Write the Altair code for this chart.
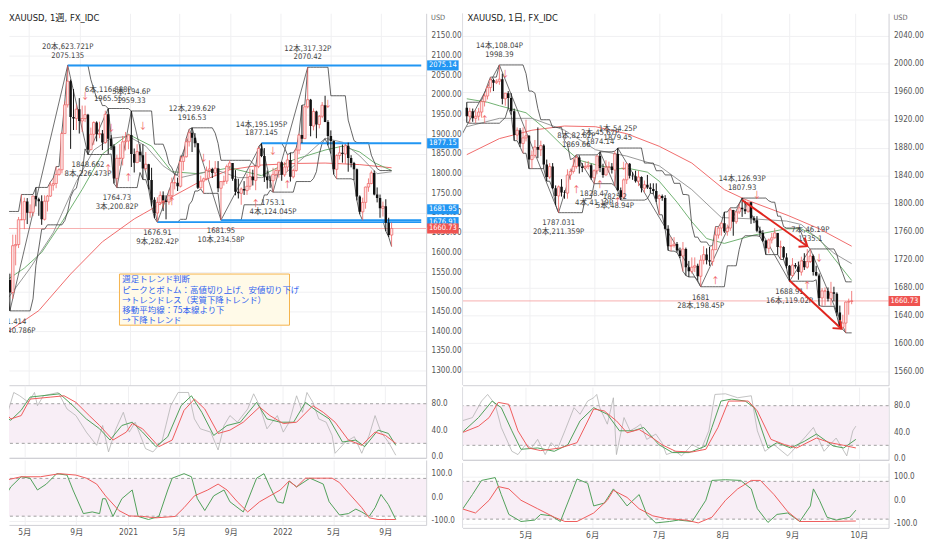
import altair as alt
import pandas as pd

FONT = "Liberation Sans Narrow, DejaVu Sans Condensed, Noto Sans CJK JP, sans-serif"
JFONT = "Noto Sans CJK JP, Noto Sans, sans-serif"

# ================= weekly XAUUSD (1週) =================
w_open = [1673,1530,1498,1617,1620,1683,1683,1729,1701,1702,
          1743,1735,1730,1684,1730,1743,1771,1775,1798,1810,
          1902,1975,2035,1944,1940,1964,1934,1940,1950,1861,
          1900,1930,1900,1902,1879,1951,1889,1870,1788,1839,
          1839,1881,1883,1898,1850,1828,1856,1847,1813,1824,
          1784,1734,1700,1727,1745,1732,1728,1744,1777,1777,
          1768,1831,1843,1881,1904,1891,1877,1764,1781,1787,
          1808,1812,1802,1814,1763,1780,1781,1818,1827,1787,
          1754,1750,1761,1757,1768,1793,1783,1818,1864,1845,
          1792,1783,1782,1798,1808,1829,1797,1817,1835,1792,
          1808,1860,1898,1889,1970,1988,1921,1958,1925,1946,
          1974,1931,1896,1883,1811,1846,1853,1850,1871,1840,
          1827,1811,1742,1703,1727,1766,1775,1802,1747,1738,
          1712,1717,1675,1644]
w_high = [1704,1546,1645,1645,1690,1747,1739,1738,1722,1744,
          1765,1739,1745,1745,1746,1779,1789,1818,1814,1907,
          1984,2075.1,2039,2015,1976,1992,1973,1973,1952,1917,
          1933,1933,1932,1911,1960,1965.6,1898,1875,1848,1875,
          1896,1906,1900,1959.3,1864,1875,1875,1875,1855,1825,
          1815,1740,1740,1755,1755,1745,1759,1790,1797,1790,
          1845,1845,1890,1913,1916.5,1903,1877,1795,1790,1818,
          1834,1815,1832,1832,1780,1795,1823,1834,1827,1809,
          1787,1765,1781,1800,1813,1810,1818,1869,1877.1,1865,
          1808,1793,1815,1814,1830,1831,1830,1848,1853,1813,
          1865,1902,1974,1975,2070.4,1990,1966,1960,1949,1982,
          1998,1936,1910,1884,1849,1870,1874,1875,1879,1847,
          1830,1813,1745,1739,1767,1788,1808,1808,1765,1747,
          1729,1735,1688,1676]
w_low = [1504,1451.4,1482,1567,1611,1682,1659,1672,1688,1692,
         1717,1693,1670,1681,1704,1741,1757,1763,1795,1801,
         1902,1968,1863,1911,1911,1902,1906,1931,1848.7,1860,
         1873,1882,1890,1860,1876,1850,1860,1775,1764.7,1820,
         1821,1859,1862,1817,1803,1828,1830,1785,1808,1760,
         1717,1687,1676.9,1720,1705,1684,1721,1731,1760,1756,
         1765,1808,1841,1869,1855,1867,1761,1762,1750,1783,
         1791,1789,1793,1753,1681.95,1770,1774,1809,1782,1745,
         1737,1721,1746,1746,1759,1770,1758,1814,1842,1779,
         1762,1764,1753.1,1785,1790,1782,1792,1806,1780,1788,
         1805,1850,1878,1889,1966,1895,1910,1890,1915,1941,
         1931,1872,1851,1798,1787,1836,1828,1825,1805,1816,
         1784,1732,1697,1681,1711,1754,1773,1745,1727,1688,
         1691,1654,1639,1615]
w_close = [1530,1498,1617,1620,1683,1683,1729,1701,1702,1743,
           1735,1730,1684,1730,1743,1771,1775,1798,1810,1902,
           1975,2035,1944,1940,1964,1934,1940,1950,1861,1900,
           1930,1900,1902,1879,1951,1889,1870,1788,1839,1839,
           1881,1883,1898,1850,1828,1856,1847,1813,1824,1784,
           1734,1700,1727,1745,1732,1728,1744,1777,1777,1768,
           1831,1843,1881,1904,1891,1877,1764,1781,1787,1808,
           1812,1802,1814,1763,1780,1781,1818,1827,1787,1754,
           1750,1761,1757,1768,1793,1783,1818,1864,1845,1792,
           1783,1782,1798,1808,1829,1797,1817,1835,1792,1808,
           1860,1898,1889,1970,1988,1921,1958,1925,1946,1974,
           1931,1896,1883,1811,1846,1853,1850,1871,1840,1827,
           1811,1742,1703,1727,1766,1775,1802,1747,1738,1712,
           1717,1675,1644,1660.73]

w_ma75 = [(0,1397),(11,1452),(22,1545),(33,1627),(44,1685),(50,1710),(58,1745),(66,1777),
          (77,1810),(88,1822),(100,1826),(110,1827),(122,1823),(133,1815)]
w_ma26 = [(0,1530),(6,1560),(12,1600),(19,1677),(26,1760),(33,1850),(42,1900),(46,1885),(50,1870),
          (57,1805),(66,1800),(77,1815),(88,1795),(99,1835),(110,1860),(116,1870),(122,1855),(127,1828),(133,1808)]
w_ma_grey = [(0,1480),(8,1560),(16,1650),(24,1780),(30,1860),(36,1890),(42,1895),(48,1870),(54,1820),
             (60,1790),(66,1800),(72,1810),(80,1790),(88,1790),(96,1800),(104,1850),(110,1890),(116,1880),
             (122,1845),(128,1800),(133,1805)]

w_piv_i = [1,21,28,35,38,43,52,64,74,88,92,104]
w_piv_p = [1451.414,2075.135,1848.662,1965.55,1764.73,1959.33,1676.91,1916.53,1681.95,1877.145,1753.1,2070.42]
w_piv_ptxt = ["1451.414","2075.135","1848.662","1965.55","1764.73","1959.33","1676.91","1916.53","1681.95","1877.145","1753.1","2070.42"]
w_piv_cnt = ["14本,240.786P","20本,623.721P","8本,226.473P","6本,116.888P","3本,200.82P","5本,194.6P",
             "9本,282.42P","12本,239.62P","10本,234.58P","14本,195.195P","4本,124.045P","12本,317.32P"]
w_piv_kind = ["lo","hi","lo","hi","lo","hi","lo","hi","lo","hi","lo","hi"]

w_hlines_p = [2075.14, 1877.15, 1681.95, 1676.91]
w_hlines_i = [21, 88, 74, 52]

w_sig_dn = [(27,1997),(36,1915),(47,1920),(68,1840),(92,1857),(111,1977)]
w_sig_up = [(35,1812),(42,1790),(54,1720),(57,1727),(86,1722),(97,1770)]

w_stk_grey = [(0,22),(2,67),(4,97),(6,92),(9,82),(11,97),(12,77),(14,92),(19,97),(22,72),(25,62),(28.5,37),
              (32,17),(34,47),(36,7),(38.5,42),(41,67),(43,37),(45,52),(48.5,12),(51,7),(54,22),(57,77),
              (59.5,97),(63,97),(65,57),(67,42),(70.5,37),(73,10),(75,47),(77,62),(79.5,52),(83,72),(85,95),
              (87,77),(89.5,42),(93,62),(95,37),(97,52),(99.5,92),(101.5,67),(103,97),(105,82),(107,57),
              (109.5,52),(111.5,32),(112.5,5),(116,22),(119,30),(121.5,5),(124,32),(126,62),(128,37),
              (130.5,22),(133,2)]
w_stk_green = [(0,62),(3,55),(6.5,70),(9.5,90),(19.5,95),(24,77),(28.5,57),(33,42),(36.5,25),(40.5,47),
               (44,52),(47.5,37),(52,15),(56,30),(60.5,77),(64,92),(67.5,67),(71.5,32),(76,47),(80.5,52),
               (86,82),(89.5,57),(94,52),(98.5,52),(102.5,82),(106,70),(110.5,57),(115,22),(119.5,25),
               (122.5,15),(127,40),(130.5,35),(133,17)]
w_stk_red = [(0,72),(3,57),(6.5,62),(9.5,87),(16.5,90),(21,92),(25,82),(29.5,62),(33,47),(37.5,25),(42,37),
             (44,50),(47.5,42),(53,15),(57.5,25),(61.5,70),(65,87),(68.5,72),(73,35),(77,40),(81.5,52),
             (87,75),(90.5,62),(95,50),(99.5,52),(105,77),(108.5,67),(112.5,52),(117,25),(121.5,17),
             (126,37),(129.5,32),(133,20)]
w_rci_red = [(0,69),(6.5,87),(13,87),(19.5,100),(25,94),(28.5,81),(32,56),(35,6),(39.5,-56),(43,-79),
             (47.5,-81),(52,-87),(58.5,-81),(61.5,-44),(65,6),(69.5,31),(73,56),(76,31),(79.5,-19),(83,-62),
             (87,-19),(90.5,6),(94,31),(97,69),(99.5,44),(102.5,81),(111.5,81),(114,62),(117,19),
             (121.5,-44),(124,-87),(127,-94),(133,-94)]
w_rci_green = [(0,-19),(3,44),(6.5,87),(9.5,81),(12,31),(15,56),(18.5,100),(22,94),(24,31),(27.5,-69),
               (30.5,-62),(33,-69),(34,-6),(35,-6),(37.5,-81),(40.5,-6),(44,31),(46,-81),(49.5,-94),(53,-81),
               (56,31),(57.5,81),(61.5,100),(64,87),(66,-6),(68.5,-56),(71.5,6),(75,31),(77,-19),(81.5,-62),
               (86,81),(88.5,100),(90.5,44),(93,-19),(95,-25),(97,69),(99.5,44),(104,81),(108.5,56),
               (110.5,-19),(114,-75),(117,-69),(119.5,-50),(121.5,-62),(124,-81),(126,-44),(128,12),
               (130.5,-31),(133,-94)]

w_tick_i = [7.57, 25.14, 42.57, 59.71, 77.29, 94.71, 111.86, 129.43]
w_tick_lab = ["5月", "9月", "2021", "5月", "9月", "2022", "5月", "9月"]
w_price_ticks = [1300,1350,1400,1450,1500,1550,1600,1650,1700,1750,1800,1850,1900,1950,2000,2050,2100,2150]

note_lines = "週足トレンド判断\nピークとボトム：高値切り上げ、安値切り下げ\n→トレンドレス（実質下降トレンド）\n移動平均線：75本線より下\n→下降トレンド"
note_box_i = [38.9, 97.7]
note_box_p = [1545, 1415]
note_txt_at = (39.9, 1541)

# ================= daily XAUUSD (1日) =================
d_open = [1937,1925,1932,1922,1925,1931,1946,1954,1966,1977,
          1973,1975,1978,1950,1958,1951,1932,1898,1905,1886,
          1894,1897,1863,1869,1881,1877,1883,1856,1838,1853,
          1822,1811,1824,1816,1815,1841,1846,1853,1866,1853,
          1851,1853,1855,1837,1847,1868,1851,1841,1852,1853,
          1848,1871,1819,1809,1834,1857,1840,1839,1832,1838,
          1822,1827,1823,1821,1818,1807,1811,1808,1764,1739,
          1740,1742,1733,1725,1735,1709,1703,1709,1711,1696,
          1719,1727,1719,1717,1734,1755,1765,1772,1760,1765,
          1791,1774,1788,1794,1792,1789,1802,1779,1776,1761,
          1758,1747,1736,1748,1751,1758,1738,1738,1723,1711,
          1697,1712,1710,1702,1718,1709,1717,1725,1702,1697,
          1665,1675,1675,1664,1673,1671,1644,1623,1629,1659,
          1660]
d_high = [1945,1937,1936,1934,1937,1948,1958,1970,1981,1979,
          1978,1998.4,1986,1958,1961,1958,1936,1909,1908,1909,
          1920,1898,1876,1891,1909,1890,1885,1863,1858,1858,
          1826,1826,1835,1819,1849,1850,1865,1869.7,1869,1858,
          1860,1861,1857,1849,1869,1874.1,1857,1862,1860,1858,
          1875,1879.5,1823,1836,1857,1858,1845,1847,1847,1839,
          1833,1841,1829,1829,1829,1813,1813,1812,1769,1752,
          1752,1745,1737,1745,1737,1718,1723,1723,1714,1726,
          1739,1736,1738,1740,1767,1767,1773,1788,1770,1794,
          1791,1789,1800,1807.9,1804,1802,1802,1782,1782,1767,
          1762,1748,1750,1758,1765,1758,1747,1739,1729,1712,
          1722,1715,1717,1724,1729,1735,1735.1,1727,1711,1700,
          1679,1680,1680,1688,1681,1673,1654,1641,1660,1664,
          1675]
d_low = [1916,1915,1917,1915,1919,1923,1939,1949,1959,1961,
         1971,1970,1942,1940,1937,1927,1890,1891,1881,1872,
         1889,1850,1850,1865,1865,1868,1850,1832,1835,1821,
         1798,1787,1810,1807,1807,1834,1843,1850,1843,1845,
         1849,1849,1834,1828.5,1842,1845,1837,1840,1844,1843,
         1825.2,1818,1805,1807,1828,1836,1834,1830,1825,1816,
         1816,1821,1815,1814,1802,1784,1804,1763,1733,1732,
         1737,1730,1722,1703,1697,1695,1700,1702,1690,1681,
         1713,1713,1711,1711,1734,1750,1754,1758,1754,1761,
         1754,1771,1785,1781,1785,1787,1771,1772,1759,1753,
         1745,1727,1729,1743,1750,1727,1720,1720,1707,1688.9,
         1695,1707,1691,1697,1705,1707,1715,1697,1696,1654,
         1653,1654,1660,1654,1660,1639,1622,1620,1615,1641,
         1656]
d_close = [1925,1932,1922,1925,1931,1946,1954,1966,1977,1973,
           1975,1978,1950,1958,1951,1932,1898,1905,1886,1894,
           1897,1863,1869,1881,1877,1883,1856,1838,1853,1822,
           1811,1824,1816,1815,1841,1846,1853,1866,1853,1851,
           1853,1855,1837,1847,1868,1851,1841,1852,1853,1848,
           1871,1819,1809,1834,1857,1840,1839,1832,1838,1822,
           1827,1823,1821,1818,1807,1811,1808,1764,1739,1740,
           1742,1733,1725,1735,1709,1703,1709,1711,1696,1719,
           1727,1719,1717,1734,1755,1765,1772,1760,1765,1791,
           1774,1788,1794,1792,1789,1802,1779,1776,1761,1758,
           1747,1736,1748,1751,1758,1738,1738,1723,1711,1697,
           1712,1710,1702,1718,1709,1717,1725,1702,1697,1665,
           1675,1675,1664,1673,1671,1644,1623,1629,1659,1660,
           1660.73]

d_ma75 = [(0,1870),(11,1893),(22,1905),(33,1911),(43.5,1910),(54,1900),(65,1882),(76,1858),(87,1820),
          (94,1806),(108.5,1783),(119,1764),(130,1739)]
d_ma25 = [(0,1950),(7,1945),(11,1940),(20,1930),(27,1905),(33,1880),(38,1862),(44,1855),(50,1850),(55,1850),
          (61,1845),(65,1832),(71,1802),(76,1774),(81,1750),(87,1743),(97,1755),(108,1764),(113,1764),
          (119,1750),(124,1722),(130,1690)]
d_ma_grey = [(0,1910),(11,1922),(22,1922),(33,1905),(43.5,1877),(54,1868),(65,1854),(76,1820),(86,1780),
             (97,1778),(108,1775),(113,1770),(119,1748),(124,1729),(130,1714)]

d_piv_j = [11,31,37,43,45,50,51,79,93,109,116]
d_piv_p = [1998.39,1787.031,1869.66,1828.47,1874.14,1825.2,1879.45,1681,1807.93,1688.91,1735.1]
d_piv_ptxt = ["1998.39","1787.031","1869.66","1828.47","1874.14","1825.2","1879.45","1681","1807.93","1688.91","1735.1"]
d_piv_cnt = ["14本,108.04P","20本,211.359P","8本,82.62P","4本,41.19P","2本,45.67P","5本,48.94P","1本,54.25P",
             "28本,198.45P","14本,126.93P","16本,119.02P","7本,46.19P"]
d_piv_kind = ["hi","lo","hi","lo","hi","lo","hi","lo","hi","lo","hi"]
d_zig_extra = [(-3,1888),(128,1615)]

d_arrows = [(93,1805,"a"),(115,1739,"a"),(109,1690,"b"),(126.5,1621,"b")]

d_sig_up = [(6,1919),(37,1819),(45,1827),(51,1802),(84,1689),(115,1682)]
d_sig_dn = [(13,1985),(53,1854),(98,1812),(119,1722)]

d_stk_grey = [(0,57),(3.5,62),(6.5,87),(8.5,97),(11,82),(13,47),(16.5,11),(18.5,6),(21,21),(23,16),(25,29),
              (27.5,6),(29.5,24),(31.5,14),(34,42),(37,77),(39,67),(41.5,87),(43.5,92),(44.5,97),(45.5,77),
              (48,52),(50,92),(51,6),(53.5,62),(55.5,42),(57.5,47),(59,52),(61,29),(64,37),(66,24),(67.5,6),
              (70.5,11),(72.5,4),(76,21),(79,14),(81.5,42),(83.5,97),(87,98),(91,92),(95.5,95),(97.5,42),
              (100,11),(103,21),(107.5,4),(113,31),(116,47),(119.5,11),(123.5,31),(127,4),(129,42),(130,49)]
d_stk_green = [(0,39),(5.5,62),(10,87),(13,77),(16.5,42),(19.5,14),(25,16),(30.5,11),(35,21),(39,57),
               (43.5,77),(48,67),(52,42),(56.5,42),(60,47),(65,21),(69.5,9),(75,9),(80.5,19),(82.5,47),
               (85.5,87),(89,90),(93.5,87),(96.5,77),(101,16),(104,24),(108.5,16),(113,26),(117,37),
               (122.5,19),(126,16),(130,29)]
d_stk_red = [(0,39),(5.5,49),(9,62),(12,85),(15.5,82),(18.5,42),(22,16),(26,12),(32.5,16),(38,24),(43.5,75),
             (47,72),(51,57),(54.5,39),(58.5,44),(63,31),(66,21),(70.5,11),(76,10),(80.5,14),(84.5,47),
             (88,87),(94.5,87),(97.5,72),(102,29),(106.5,21),(110.5,16),(117,31),(121.5,24),(126,20),(130,16)]
d_rci_red = [(0,-36),(4.5,-54),(9,0),(12,58),(15.5,48),(19.5,0),(25,-36),(30.5,-72),(34,-90),(38,-90),
             (43.5,-54),(48,0),(50,42),(54.5,12),(58.5,-36),(63,-66),(67.5,-78),(74,-84),(78,-96),(82.5,-72),
             (87,0),(91,48),(95.5,84),(98.5,84),(103,24),(107.5,-48),(111.5,-90),(119.5,-90),(130,-88)]
d_rci_green = [(0,-42),(3.5,24),(6.5,84),(11,96),(13,24),(15.5,-60),(19.5,-90),(24,-84),(26,-60),(29.5,-66),
               (32.5,-90),(36,24),(38,90),(41.5,72),(43.5,-24),(47,-12),(50,48),(52,18),(54.5,-24),(58.5,24),
               (61,-60),(64,-96),(68.5,-90),(71.5,-84),(76,-90),(80.5,0),(82.5,84),(87,87),(92,84),(95.5,48),
               (97.5,-36),(101,-94),(104,-60),(107.5,-54),(111.5,-90),(115,-24),(116,48),(118,0),(120.5,-72),
               (123.5,-84),(128,-72),(130,-42)]

d_tick_j = [21, 43, 65, 86, 109, 131]
d_tick_lab = ["5月", "6月", "7月", "8月", "9月", "10月"]
d_price_ticks = [1560,1600,1640,1680,1720,1760,1800,1840,1880,1920,1960,2000,2040]

last_price = 1660.73

# ================= layout / styles =================
LW, RW = 424, 433
PH, SH, CH = 378, 74, 66
WX = [2.39, 143.25]
WY = [1262.5, 2207.5]
DX = [0.23, 140.8]
DY = [1540.1, 2072.3]
SY = [-2.2, 108]
RY = [-117, 158]

GRID = "#f0f0f2"
DOM = "#cfcfd4"
LAB = "#555555"
UPC = "#ee5f5f"
DNC = "#111111"
BLUE = "#2196f3"
REDL = "#ef5350"


def ax_y(values, extent, fmt=None, expr=None, grid=True):
    kw = dict(orient="right", values=values, grid=grid, gridColor=GRID, ticks=False, labelPadding=5,
              domain=True, domainColor=DOM, labelFontSize=8.2, labelColor=LAB, labelFont=FONT,
              minExtent=extent, maxExtent=extent, title=None, labelOverlap=False, labelFlush=False)
    if fmt:
        kw["format"] = fmt
    if expr:
        kw["labelExpr"] = expr
    return alt.Axis(**kw)


def ax_x(values, labels=None):
    if labels is None:
        return alt.Axis(values=values, labels=False, ticks=False, grid=True, gridColor=GRID, domain=True,
                        domainColor=DOM, title=None, minExtent=0, maxExtent=0)
    expr = ("[" + ",".join("'%s'" % s for s in labels) + "][indexof([" +
            ",".join(repr(v) for v in values) + "], datum.value)]")
    return alt.Axis(values=values, labelExpr=expr, ticks=False, grid=True, gridColor=GRID, domain=True,
                    domainColor=DOM, title=None, labelPadding=3, labelFontSize=8.5, labelColor=LAB,
                    labelFont=FONT, minExtent=12, maxExtent=12, labelOverlap=False, labelFlush=False)


class Frame:
    def __init__(self, xdom, ydom, xaxis, yaxis, width, height):
        self.xs = alt.Scale(domain=xdom, nice=False, zero=False)
        self.ys = alt.Scale(domain=ydom, nice=False, zero=False)
        self.xa = xaxis
        self.ya = yaxis
        self.w = width
        self.h = height

    def X(self, f="i"):
        return alt.X(f + ":Q", scale=self.xs, axis=self.xa)

    def Y(self, f):
        return alt.Y(f + ":Q", scale=self.ys, axis=self.ya)


def pairs_df(pairs):
    return pd.DataFrame(pairs, columns=["i", "v"])


def line(fr, pairs, color, width=1.0, opacity=1.0):
    return alt.Chart(pairs_df(pairs)).mark_line(color=color, strokeWidth=width, opacity=opacity, clip=True).encode(
        x=fr.X(), y=fr.Y("v"))


def candles(fr, df, bw):
    b = alt.Chart(df)
    up = b.transform_filter("datum.close >= datum.open")
    dn = b.transform_filter("datum.close < datum.open")
    return [
        up.mark_rule(color=UPC, strokeWidth=0.8, clip=True).encode(x=fr.X(), y=fr.Y("low"), y2="high:Q"),
        dn.mark_rule(color=DNC, strokeWidth=1.0, clip=True).encode(x=fr.X(), y=fr.Y("low"), y2="high:Q"),
        up.mark_bar(fill="#fde6e6", stroke=UPC, strokeWidth=0.7, size=bw, clip=True).encode(
            x=fr.X(), y=fr.Y("open"), y2="close:Q"),
        dn.mark_bar(color=DNC, size=bw, clip=True).encode(x=fr.X(), y=fr.Y("open"), y2="close:Q"),
    ]


def donchian(fr, df, n):
    b = alt.Chart(df).transform_window(hh="max(high)", ll="min(low)", frame=[-(n - 1), 0],
                                       sort=[alt.SortField("i", order="ascending")])
    return [
        b.mark_line(color="#3c3c3c", strokeWidth=0.8, clip=True).encode(x=fr.X(), y=fr.Y("hh")),
        b.mark_line(color="#3c3c3c", strokeWidth=0.8, clip=True).encode(x=fr.X(), y=fr.Y("ll")),
    ]


def pivot_labels(fr, idx, prices, ptxt, cnt, kind):
    df = pd.DataFrame({"i": idx, "p": prices, "pt": ptxt, "ct": cnt, "k": kind})
    hi = alt.Chart(df).transform_filter("datum.k == 'hi'")
    lo = alt.Chart(df).transform_filter("datum.k == 'lo'")
    st = dict(fontSize=7.8, font=FONT, color="#444444", align="center", baseline="middle", clip=True)
    return [
        hi.mark_text(dy=-19, **st).encode(x=fr.X(), y=fr.Y("p"), text="ct:N"),
        hi.mark_text(dy=-10, **st).encode(x=fr.X(), y=fr.Y("p"), text="pt:N"),
        lo.mark_text(dy=11, **st).encode(x=fr.X(), y=fr.Y("p"), text="pt:N"),
        lo.mark_text(dy=20, **st).encode(x=fr.X(), y=fr.Y("p"), text="ct:N"),
    ]


def signals(fr, ups, dns):
    dfu = pd.DataFrame(ups, columns=["i", "v"]).assign(g="↑")
    dfd = pd.DataFrame(dns, columns=["i", "v"]).assign(g="↓")
    st = dict(fontSize=9, color="#f06262", align="center", baseline="middle", clip=True, font=JFONT)
    return [alt.Chart(d).mark_text(**st).encode(x=fr.X(), y=fr.Y("v"), text="g:N") for d in (dfu, dfd)]


BOX_SHAPE = "M-1,-0.32L1,-0.32L1,0.32L-1,0.32Z"


def price_tag(fr, price, text, color, cx, yoff=0):
    df = pd.DataFrame({"p": [price], "t": [text]})
    c = alt.Chart(df)
    return [
        c.mark_point(shape=BOX_SHAPE, filled=True, size=1024, color=color, opacity=1, yOffset=yoff).encode(
            x=alt.value(cx), y=fr.Y("p")),
        c.mark_text(color="white", fontSize=7.6, font=FONT, align="center", baseline="middle", yOffset=yoff).encode(
            x=alt.value(cx), y=fr.Y("p"), text="t:N"),
    ]


def title_text(txt, x):
    return alt.Chart(pd.DataFrame({"t": [txt]})).mark_text(
        align="left", baseline="middle", fontSize=9.5, font=FONT, color="#222222").encode(
        x=alt.value(x), y=alt.value(5), text="t:N")


def osc_pane(fr, lo, hi, lines):
    band = alt.Chart(pd.DataFrame({"lo": [lo], "hi": [hi]})).mark_rect(color="#f8eef6").encode(
        x=alt.value(0), x2=alt.value(fr.w), y=fr.Y("lo"), y2="hi:Q")
    lv = alt.Chart(pd.DataFrame({"lv": [lo, hi]})).mark_rule(
        strokeDash=[3, 3], color="#8a8a8a", strokeWidth=0.8).encode(y=fr.Y("lv"))
    layers = [band, lv] + lines
    return alt.layer(*layers).properties(width=fr.w, height=fr.h)


RCI_EXPR = "datum.value < 0 ? '-' + format(-datum.value, '.1f') : format(datum.value, '.1f')"

# ---------------- weekly panes ----------------
wk = pd.DataFrame({"i": list(range(len(w_close))), "open": w_open, "high": w_high,
                   "low": w_low, "close": w_close})
fw = Frame(WX, WY, ax_x(w_tick_i), ax_y(w_price_ticks, 34, fmt=".2f"), LW, PH)

w_layers = []
w_layers.append(alt.Chart(pd.DataFrame({"p": [last_price]})).mark_rule(
    color="#f6a5a5", strokeWidth=0.9).encode(y=fw.Y("p")))
w_layers.append(alt.Chart(pd.DataFrame({"i0": [note_box_i[0]], "i1": [note_box_i[1]],
                                        "p0": [note_box_p[0]], "p1": [note_box_p[1]]})).mark_rect(
    fill="#fffae8", stroke="#f5b24a", strokeWidth=1).encode(
    x=fw.X("i0"), x2="i1:Q", y=fw.Y("p0"), y2="p1:Q"))
w_layers.append(alt.Chart(pd.DataFrame({"i": [note_txt_at[0]], "p": [note_txt_at[1]], "t": [note_lines]})).mark_text(
    align="left", baseline="top", fontSize=8.6, lineHeight=10.4, lineBreak="\n", font=JFONT,
    color="#2f62f0").encode(x=fw.X(), y=fw.Y("p"), text="t:N"))
w_layers.append(line(fw, w_ma75, "#f06a6a", 1.0))
w_layers.append(line(fw, w_ma26, "#5fa860", 0.9))
w_layers.append(line(fw, w_ma_grey, "#8c8c8c", 0.9))
w_layers += donchian(fw, wk, 8)
w_layers.append(alt.Chart(pd.DataFrame({"i": w_piv_i, "v": w_piv_p})).mark_line(
    color="#4a4a4a", strokeWidth=0.8, clip=True).encode(x=fw.X(), y=fw.Y("v")))
hl = pd.DataFrame({"i": w_hlines_i, "p": w_hlines_p, "e": [WX[1]] * len(w_hlines_p)})
w_layers.append(alt.Chart(hl).mark_rule(color=BLUE, strokeWidth=2, clip=True).encode(
    x=fw.X(), x2="e:Q", y=fw.Y("p")))
w_layers += candles(fw, wk, 2.5)
w_layers += pivot_labels(fw, w_piv_i, w_piv_p, w_piv_ptxt, w_piv_cnt, w_piv_kind)
w_layers += signals(fw, w_sig_up, w_sig_dn)
w_layers.append(title_text("XAUUSD, 1週, FX_IDC", 0))
w_layers.append(alt.Chart(pd.DataFrame({"t": ["USD"]})).mark_text(
    align="left", baseline="middle", fontSize=7.5, font=FONT, color="#666666").encode(
    x=alt.value(LW + 5), y=alt.value(5), text="t:N"))
w_layers += price_tag(fw, 2075.14, "2075.14", BLUE, LW + 17)
w_layers += price_tag(fw, 1877.15, "1877.15", BLUE, LW + 17)
w_layers += price_tag(fw, 1681.95, "1681.95", BLUE, LW + 17, yoff=-11)
w_layers += price_tag(fw, 1676.91, "1676.91", BLUE, LW + 17)
w_layers += price_tag(fw, last_price, "1660.73", REDL, LW + 17)
w_price = alt.layer(*w_layers).properties(width=LW, height=PH)

fws = Frame(WX, SY, ax_x(w_tick_i), ax_y([0, 40, 80], 34, fmt=".1f"), LW, SH)
w_stoch = osc_pane(fws, 20, 80, [line(fws, w_stk_grey, "#b3b3b3", 0.8),
                                 line(fws, w_stk_green, "#4f9f58", 1.0),
                                 line(fws, w_stk_red, "#ef5a5a", 1.0)])
fwr = Frame(WX, RY, ax_x(w_tick_i, w_tick_lab), ax_y([-100, 0, 100], 34, expr=RCI_EXPR), LW, CH)
w_rci = osc_pane(fwr, -80, 80, [line(fwr, w_rci_green, "#4f9f58", 1.0),
                                line(fwr, w_rci_red, "#ef5a5a", 1.0)])

left = alt.vconcat(w_price, w_stoch, w_rci, spacing=0)

# ---------------- daily panes ----------------
dd = pd.DataFrame({"i": list(range(len(d_close))), "open": d_open, "high": d_high,
                   "low": d_low, "close": d_close})
fd = Frame(DX, DY, ax_x(d_tick_j), ax_y(d_price_ticks, 33, fmt=".2f"), RW, PH)

sep = alt.Chart(pd.DataFrame({"z": [0]})).mark_rule(color="#dcdce0", strokeWidth=1).encode(x=alt.value(0))

zig = sorted([(d_zig_extra[0][0], d_zig_extra[0][1])] + list(zip(d_piv_j, d_piv_p)) +
             [(d_zig_extra[1][0], d_zig_extra[1][1])])
ar = pd.DataFrame(d_arrows, columns=["i", "v", "g"])

d_layers = []
d_layers.append(alt.Chart(pd.DataFrame({"p": [last_price]})).mark_rule(
    color="#f6a5a5", strokeWidth=0.9).encode(y=fd.Y("p")))
d_layers.append(line(fd, d_ma75, "#f06a6a", 1.0))
d_layers.append(line(fd, d_ma25, "#5fa860", 0.9))
d_layers.append(line(fd, d_ma_grey, "#8c8c8c", 0.9))
d_layers += donchian(fd, dd, 9)
d_layers.append(alt.Chart(pairs_df(zig)).mark_line(color="#4a4a4a", strokeWidth=0.8, clip=True).encode(
    x=fd.X(), y=fd.Y("v")))
d_layers += candles(fd, dd, 2.5)
d_layers += pivot_labels(fd, d_piv_j, d_piv_p, d_piv_ptxt, d_piv_cnt, d_piv_kind)
d_layers += signals(fd, d_sig_up, d_sig_dn)
d_layers.append(alt.Chart(ar).mark_line(color="#e0261f", strokeWidth=2, clip=True).encode(
    x=fd.X(), y=fd.Y("v"), detail="g:N"))
CHEV = "M-1,-0.8L0,0L-1,0.8"
for g, ang in (("a", 34.7), ("b", 42.3)):
    end = ar[ar.g == g].iloc[[1]]
    d_layers.append(alt.Chart(end).mark_point(shape=CHEV, filled=False, size=196, color="#e0261f",
                                              strokeWidth=2, angle=ang, opacity=1).encode(
        x=fd.X(), y=fd.Y("v")))
d_layers.append(title_text("XAUUSD, 1日, FX_IDC", 5))
d_layers.append(alt.Chart(pd.DataFrame({"t": ["USD"]})).mark_text(
    align="left", baseline="middle", fontSize=7.5, font=FONT, color="#666666").encode(
    x=alt.value(RW + 5), y=alt.value(5), text="t:N"))
d_layers += price_tag(fd, last_price, "1660.73", REDL, RW + 16)
d_layers.append(sep)
d_price = alt.layer(*d_layers).properties(width=RW, height=PH)

fds = Frame(DX, SY, ax_x(d_tick_j), ax_y([0, 40, 80], 33, fmt=".1f"), RW, SH)
d_stoch = osc_pane(fds, 20, 80, [line(fds, d_stk_grey, "#b3b3b3", 0.8),
                                 line(fds, d_stk_green, "#4f9f58", 1.0),
                                 line(fds, d_stk_red, "#ef5a5a", 1.0), sep])
fdr = Frame(DX, RY, ax_x(d_tick_j, d_tick_lab), ax_y([-100, 0, 100], 33, expr=RCI_EXPR), RW, CH)
d_rci = osc_pane(fdr, -80, 80, [line(fdr, d_rci_green, "#4f9f58", 1.0),
                                line(fdr, d_rci_red, "#ef5a5a", 1.0), sep])

right = alt.vconcat(d_price, d_stoch, d_rci, spacing=0)

chart = alt.hconcat(left, right, spacing=0).properties(padding=0, background="white").configure_view(
    stroke=None)

chart.save("out.html", embed_options={"renderer": "svg", "actions": False})
